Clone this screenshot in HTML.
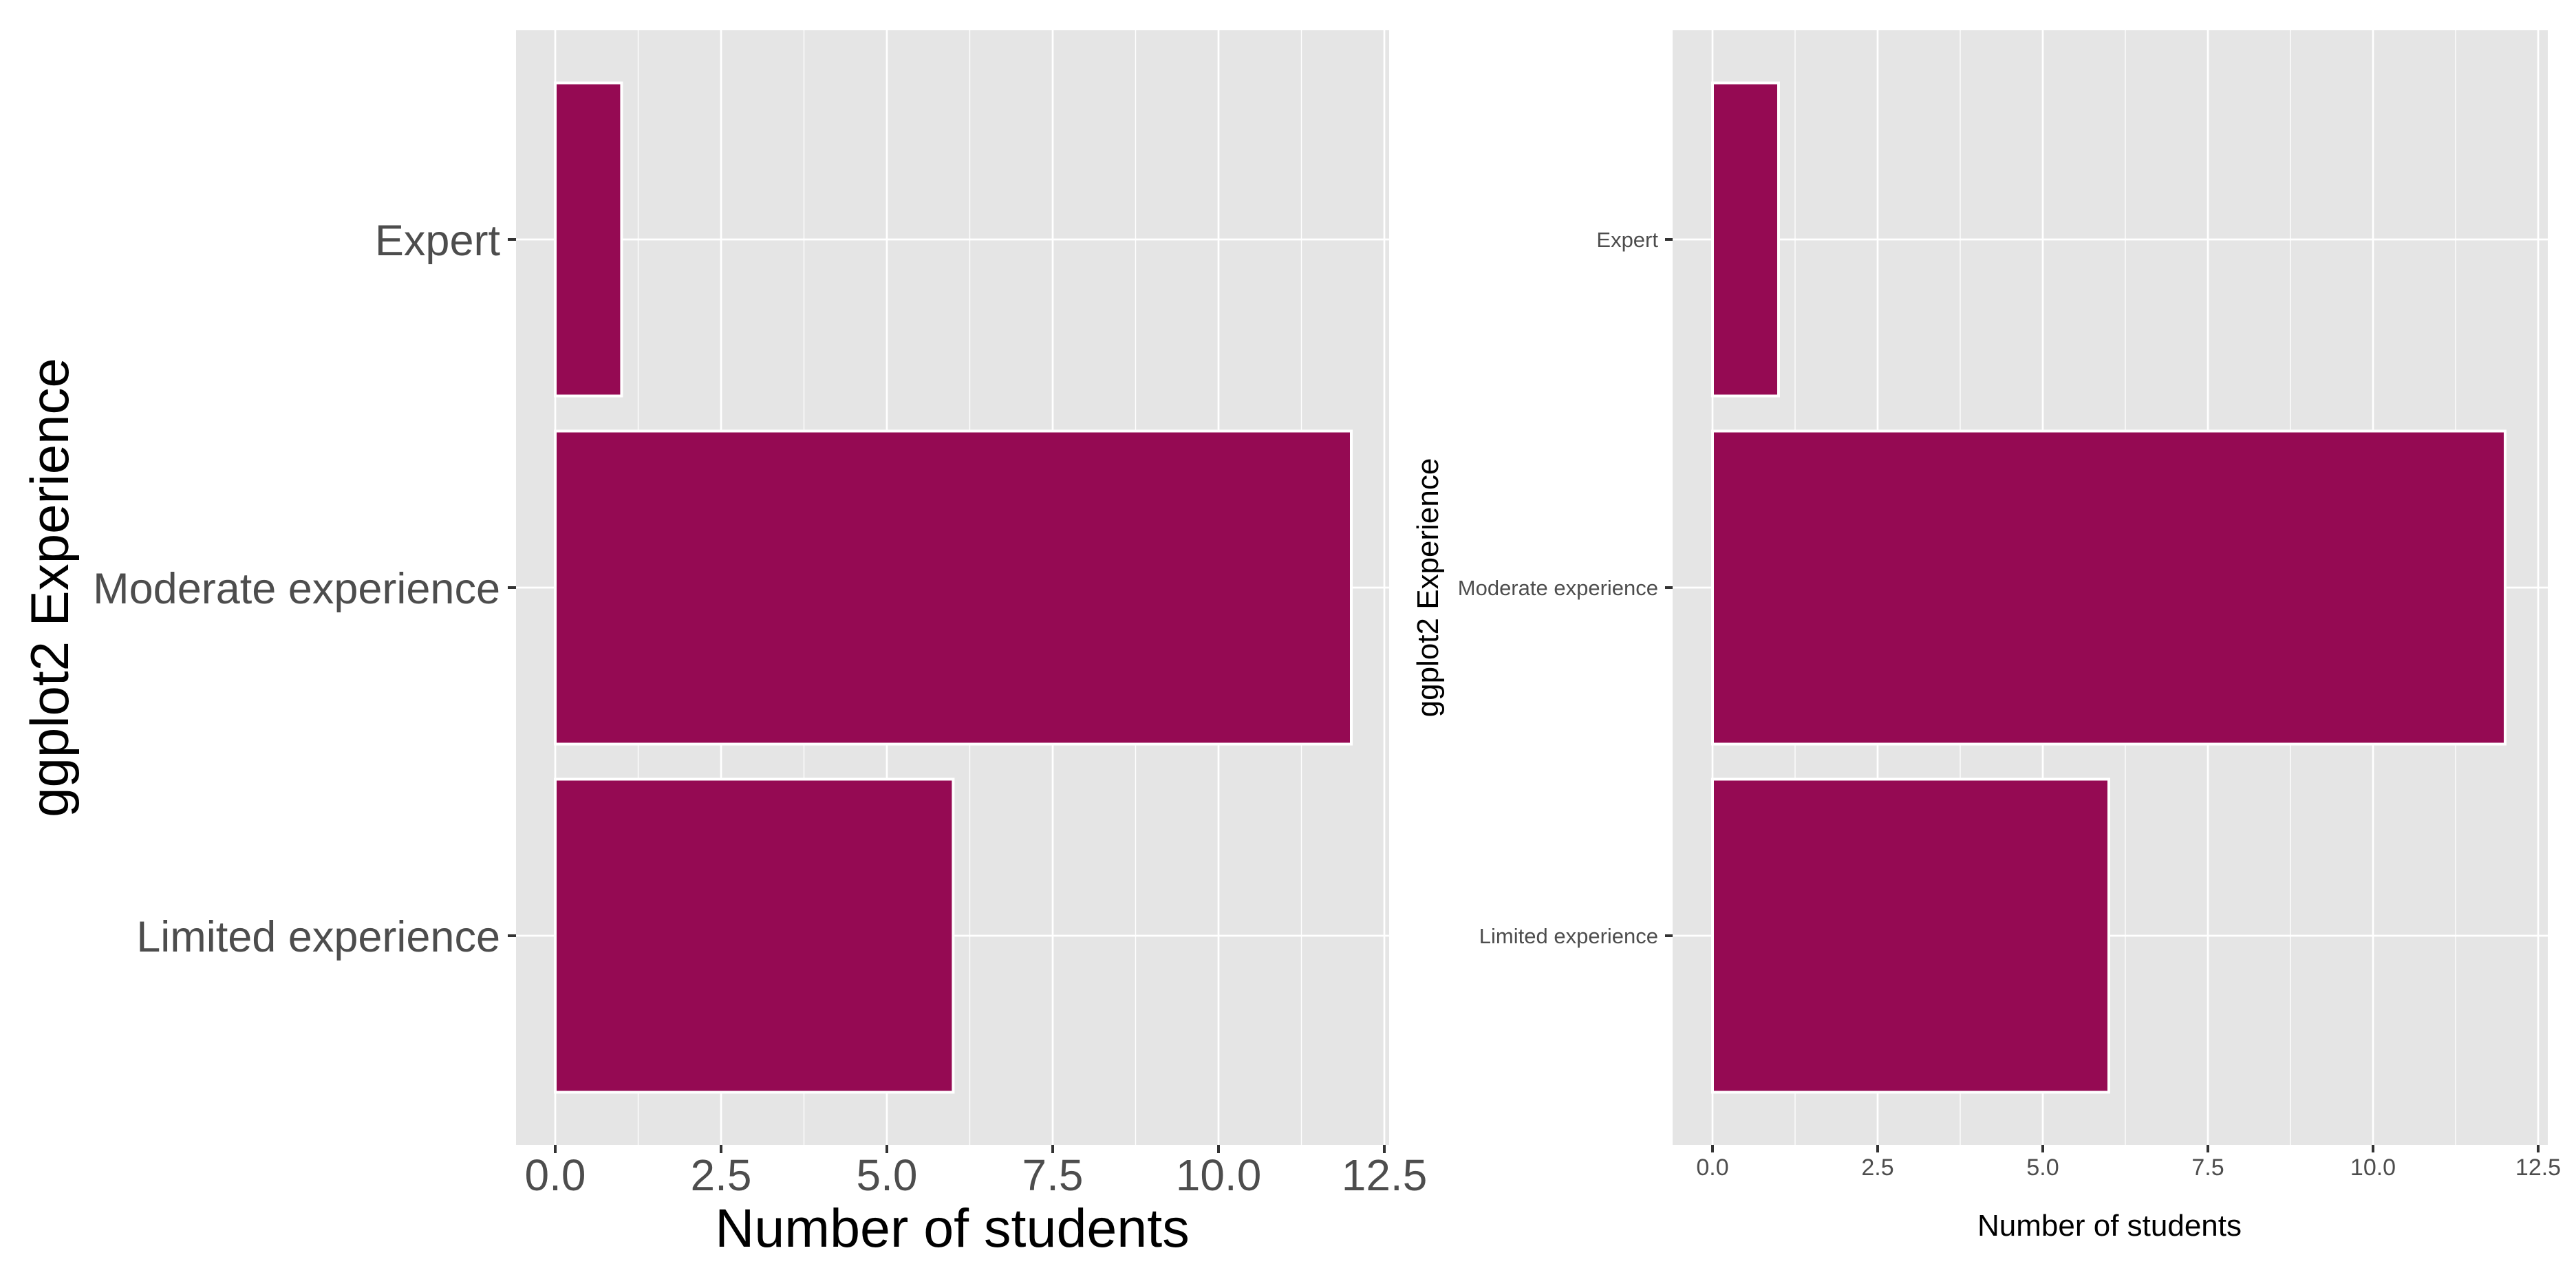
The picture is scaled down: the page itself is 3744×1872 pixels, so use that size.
<!DOCTYPE html>
<html><head><meta charset="utf-8"><style>html,body{margin:0;padding:0;background:#fff}svg{display:block}</style></head>
<body>
<svg width="3744" height="1872" viewBox="0 0 3744 1872" xmlns="http://www.w3.org/2000/svg" font-family="Liberation Sans, Arial, sans-serif">
<rect width="3744" height="1872" fill="#fff"/>
<!-- LEFT PANEL -->
<rect x="750" y="44" width="1269" height="1620" fill="#e5e5e5"/>
<g stroke="#fff" stroke-width="1.3">
<line x1="927.5" y1="44" x2="927.5" y2="1664"/><line x1="1168.5" y1="44" x2="1168.5" y2="1664"/><line x1="1409.5" y1="44" x2="1409.5" y2="1664"/><line x1="1650.5" y1="44" x2="1650.5" y2="1664"/><line x1="1891.5" y1="44" x2="1891.5" y2="1664"/>
</g>
<g stroke="#fff" stroke-width="2.7">
<line x1="807" y1="44" x2="807" y2="1664"/><line x1="1048" y1="44" x2="1048" y2="1664"/><line x1="1289" y1="44" x2="1289" y2="1664"/><line x1="1530" y1="44" x2="1530" y2="1664"/><line x1="1771" y1="44" x2="1771" y2="1664"/><line x1="2012" y1="44" x2="2012" y2="1664"/>
<line x1="750" y1="348" x2="2019" y2="348"/><line x1="750" y1="854" x2="2019" y2="854"/><line x1="750" y1="1360" x2="2019" y2="1360"/>
</g>
<g fill="#950a53" stroke="#fff" stroke-width="4">
<rect x="807" y="120.5" width="96.4" height="455"/>
<rect x="807" y="626.5" width="1157" height="455"/>
<rect x="807" y="1132.5" width="578.4" height="455"/>
</g>
<g stroke="#333" stroke-width="4">
<line x1="807" y1="1664" x2="807" y2="1676"/><line x1="1048" y1="1664" x2="1048" y2="1676"/><line x1="1289" y1="1664" x2="1289" y2="1676"/><line x1="1530" y1="1664" x2="1530" y2="1676"/><line x1="1771" y1="1664" x2="1771" y2="1676"/><line x1="2012" y1="1664" x2="2012" y2="1676"/>
<line x1="738" y1="348" x2="750" y2="348"/><line x1="738" y1="854" x2="750" y2="854"/><line x1="738" y1="1360" x2="750" y2="1360"/>
</g>
<g fill="#4d4d4d" font-size="64" text-anchor="middle">
<text x="807" y="1730">0.0</text><text x="1048" y="1730">2.5</text><text x="1289" y="1730">5.0</text><text x="1530" y="1730">7.5</text><text x="1771" y="1730">10.0</text><text x="2012" y="1730">12.5</text>
</g>
<g fill="#4d4d4d" font-size="63" text-anchor="end">
<text x="727" y="371">Expert</text><text x="727" y="877">Moderate experience</text><text x="727" y="1383">Limited experience</text>
</g>
<text x="1384" y="1812" font-size="79" text-anchor="middle" fill="#000">Number of students</text>
<text transform="translate(99,854) rotate(-90)" font-size="78" text-anchor="middle" fill="#000">ggplot2 Experience</text>
<!-- RIGHT PANEL -->
<rect x="2431" y="44" width="1272" height="1620" fill="#e5e5e5"/>
<g stroke="#fff" stroke-width="1.3">
<line x1="2609" y1="44" x2="2609" y2="1664"/><line x1="2849" y1="44" x2="2849" y2="1664"/><line x1="3089" y1="44" x2="3089" y2="1664"/><line x1="3329" y1="44" x2="3329" y2="1664"/><line x1="3569" y1="44" x2="3569" y2="1664"/>
</g>
<g stroke="#fff" stroke-width="2.7">
<line x1="2489" y1="44" x2="2489" y2="1664"/><line x1="2729" y1="44" x2="2729" y2="1664"/><line x1="2969" y1="44" x2="2969" y2="1664"/><line x1="3209" y1="44" x2="3209" y2="1664"/><line x1="3449" y1="44" x2="3449" y2="1664"/><line x1="3689" y1="44" x2="3689" y2="1664"/>
<line x1="2431" y1="348" x2="3703" y2="348"/><line x1="2431" y1="854" x2="3703" y2="854"/><line x1="2431" y1="1360" x2="3703" y2="1360"/>
</g>
<g fill="#950a53" stroke="#fff" stroke-width="4">
<rect x="2489" y="120.5" width="96" height="455"/>
<rect x="2489" y="626.5" width="1152" height="455"/>
<rect x="2489" y="1132.5" width="576" height="455"/>
</g>
<g stroke="#333" stroke-width="4">
<line x1="2489" y1="1664" x2="2489" y2="1675"/><line x1="2729" y1="1664" x2="2729" y2="1675"/><line x1="2969" y1="1664" x2="2969" y2="1675"/><line x1="3209" y1="1664" x2="3209" y2="1675"/><line x1="3449" y1="1664" x2="3449" y2="1675"/><line x1="3689" y1="1664" x2="3689" y2="1675"/>
<line x1="2420" y1="348" x2="2431" y2="348"/><line x1="2420" y1="854" x2="2431" y2="854"/><line x1="2420" y1="1360" x2="2431" y2="1360"/>
</g>
<g fill="#4d4d4d" font-size="34" text-anchor="middle">
<text x="2489" y="1708">0.0</text><text x="2729" y="1708">2.5</text><text x="2969" y="1708">5.0</text><text x="3209" y="1708">7.5</text><text x="3449" y="1708">10.0</text><text x="3689" y="1708">12.5</text>
</g>
<g fill="#4d4d4d" font-size="31" text-anchor="end">
<text x="2410" y="359">Expert</text><text x="2410" y="865">Moderate experience</text><text x="2410" y="1371">Limited experience</text>
</g>
<text x="3066" y="1796" font-size="44" text-anchor="middle" fill="#000">Number of students</text>
<text transform="translate(2090,854) rotate(-90)" font-size="44" text-anchor="middle" fill="#000">ggplot2 Experience</text>
</svg>
</body></html>
